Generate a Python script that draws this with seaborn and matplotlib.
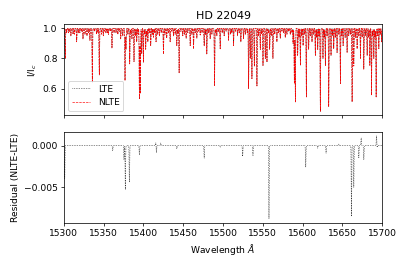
import numpy as np
import pandas as pd
import matplotlib
matplotlib.use("Agg")
import matplotlib.pyplot as plt
import seaborn as sns

sns.set_theme(style="ticks", rc={
    "axes.edgecolor": "black", "axes.labelcolor": "black", "text.color": "black",
    "xtick.color": "black", "ytick.color": "black",
    "font.size": 10, "axes.labelsize": 10, "axes.titlesize": 12,
    "xtick.labelsize": 10, "ytick.labelsize": 10, "legend.fontsize": 10,
    "axes.linewidth": 0.8, "xtick.major.width": 0.8, "ytick.major.width": 0.8,
    "xtick.major.size": 3.5, "ytick.major.size": 3.5,
})
plt.rcParams["font.family"] = ["DejaVu Sans"]

# line list: centre (A) and minimum I/Ic
line_center = [15301.7, 15305.5, 15308.8, 15311.5, 15316.0, 15320.0, 15324.0, 15329.0,
               15332.7, 15335.7, 15341.0, 15344.5, 15349.5, 15352.8, 15356.0, 15360.4,
               15365.5, 15371.4, 15374.0, 15376.8, 15378.0, 15382.7, 15385.5, 15388.1,
               15391.5, 15394.9, 15396.1, 15397.8, 15399.9, 15402.8, 15405.5, 15409.1,
               15412.5, 15415.8, 15420.0, 15425.1, 15429.2, 15433.5, 15437.7, 15441.9,
               15444.8, 15449.4, 15453.6, 15458.7, 15462.9, 15467.1, 15471.3, 15476.3,
               15479.6, 15483.8, 15489.3, 15492.2, 15496.4, 15501.4, 15506.9, 15513.2,
               15518.2, 15522.4, 15525.7, 15532.1, 15534.2, 15536.3, 15539.3, 15542.6,
               15546.8, 15550.2, 15553.1, 15555.2, 15558.6, 15562.7, 15567.7, 15571.9,
               15578.2, 15584.5, 15588.0, 15589.6, 15590.9, 15593.8, 15597.2, 15600.6,
               15604.7, 15607.6, 15611.8, 15616.0, 15619.0, 15622.3, 15625.6, 15628.6,
               15632.8, 15635.7, 15639.1, 15643.3, 15647.5, 15650.9, 15655.9, 15662.2,
               15664.3, 15668.5, 15672.7, 15676.9, 15681.1, 15684.5, 15686.6, 15689.5,
               15692.4, 15695.8, 15699.2]
line_min = [0.80, 0.97, 0.95, 0.96, 0.91, 0.97, 0.93, 0.95,
            0.92, 0.64, 0.96, 0.69, 0.95, 0.97, 0.96, 0.87,
            0.97, 0.93, 0.95, 0.655, 0.86, 0.765, 0.93, 0.78,
            0.91, 0.534, 0.567, 0.83, 0.776, 0.86, 0.91, 0.885,
            0.94, 0.91, 0.95, 0.83, 0.935, 0.91, 0.95, 0.885,
            0.705, 0.95, 0.935, 0.885, 0.864, 0.935, 0.955, 0.885,
            0.83, 0.93, 0.62, 0.95, 0.864, 0.95, 0.92, 0.885,
            0.95, 0.91, 0.93, 0.60, 0.80, 0.666, 0.75, 0.617,
            0.86, 0.754, 0.80, 0.776, 0.86, 0.80, 0.91, 0.935,
            0.94, 0.96, 0.90, 0.633, 0.512, 0.82, 0.754, 0.885,
            0.545, 0.86, 0.91, 0.82, 0.86, 0.45, 0.80, 0.754,
            0.479, 0.82, 0.864, 0.84, 0.633, 0.885, 0.84, 0.512,
            0.754, 0.864, 0.80, 0.73, 0.82, 0.754, 0.556, 0.80,
            0.545, 0.864, 0.91]

# weak lines filling the band just under the continuum
weak_center = [15303.2, 15307.0, 15313.4, 15318.1, 15322.2, 15326.5, 15331.0, 15338.4,
               15342.8, 15347.2, 15351.0, 15354.5, 15358.2, 15363.0, 15367.8, 15369.6,
               15380.4, 15384.0, 15390.0, 15393.2, 15401.3, 15404.1, 15407.3, 15411.0,
               15414.0, 15417.8, 15422.3, 15427.0, 15431.4, 15435.6, 15439.8, 15443.2,
               15447.0, 15451.5, 15455.7, 15460.8, 15465.0, 15469.2, 15473.6, 15478.0,
               15481.7, 15486.0, 15490.8, 15494.3, 15498.9, 15503.8, 15509.5, 15511.0,
               15515.6, 15520.3, 15528.0, 15530.4, 15544.6, 15548.5, 15557.0, 15560.5,
               15565.0, 15569.8, 15574.0, 15576.1, 15580.3, 15582.4, 15586.6, 15595.5,
               15598.9, 15602.6, 15609.6, 15613.9, 15617.5, 15620.6, 15627.1, 15630.7,
               15637.4, 15641.2, 15645.4, 15649.2, 15653.4, 15658.0, 15660.1, 15666.4,
               15670.6, 15674.8, 15679.0, 15683.0, 15688.0, 15691.0, 15694.1, 15697.5]
weak_min = [0.97, 0.98, 0.96, 0.97, 0.98, 0.96, 0.97, 0.98,
            0.97, 0.96, 0.98, 0.97, 0.98, 0.97, 0.96, 0.98,
            0.96, 0.97, 0.95, 0.96, 0.96, 0.95, 0.97, 0.96,
            0.97, 0.96, 0.97, 0.96, 0.97, 0.98, 0.96, 0.97,
            0.98, 0.96, 0.97, 0.96, 0.97, 0.98, 0.97, 0.96,
            0.97, 0.96, 0.97, 0.98, 0.97, 0.98, 0.96, 0.97,
            0.98, 0.97, 0.96, 0.97, 0.95, 0.96, 0.97, 0.95,
            0.96, 0.97, 0.98, 0.97, 0.96, 0.98, 0.97, 0.94,
            0.95, 0.96, 0.95, 0.96, 0.94, 0.95, 0.94, 0.95,
            0.95, 0.94, 0.96, 0.95, 0.94, 0.95, 0.96, 0.94,
            0.95, 0.94, 0.95, 0.94, 0.95, 0.94, 0.95, 0.96]

# NLTE - LTE differences at line cores
resid_center = [15301.0, 15361.3, 15375.5, 15377.2, 15382.3, 15394.9, 15415.6, 15416.2,
                15421.7, 15441.9, 15476.3, 15496.4, 15524.6, 15537.6, 15557.7, 15603.9,
                15619.0, 15629.5, 15645.4, 15661.4, 15664.3, 15670.6, 15673.6, 15676.9,
                15692.9, 15693.5]
resid_amp = [-0.0040, -0.0006, -0.0017, -0.0053, -0.0044, -0.0011, 0.0004, -0.0009,
             0.0003, -0.0004, -0.0015, -0.0002, -0.0013, -0.0012, -0.0088, -0.0026,
             -0.0003, -0.0009, 0.0002, -0.0085, -0.0050, -0.0015, 0.0009, -0.0017,
             0.0012, -0.0003]

wave = np.arange(15300.0, 15700.01, 0.05)
sigma = 0.3


def spectrum(centers, mins):
    flux = np.ones_like(wave)
    for c, m in zip(centers, mins):
        flux *= 1 - (1 - m) * np.exp(-0.5 * ((wave - c) / sigma) ** 2)
    return flux


lte = spectrum(line_center, line_min) * spectrum(weak_center, weak_min)
resid = np.zeros_like(wave)
for c, a in zip(resid_center, resid_amp):
    resid += a * np.exp(-0.5 * ((wave - c) / sigma) ** 2)

df = pd.DataFrame({"wave": wave, "LTE": lte, "NLTE": lte + resid})
df["resid"] = df["NLTE"] - df["LTE"]

dpi = 66
fig, (ax1, ax2) = plt.subplots(2, 1, sharex=True, figsize=(407 / dpi, 271 / dpi), dpi=dpi)
fig.subplots_adjust(left=0.157, right=0.939, top=0.911, bottom=0.177, hspace=0.18)

sns.lineplot(data=df, x="wave", y="LTE", ax=ax1, color="black", linestyle=":",
             linewidth=0.7, label="LTE", estimator=None, sort=False)
sns.lineplot(data=df, x="wave", y="NLTE", ax=ax1, color="red", linestyle="--",
             linewidth=0.7, label="NLTE", estimator=None, sort=False)
ax1.legend(loc="lower left")
ax1.set_title("HD 22049")
ax1.set_ylabel("I/I$_c$")
ax1.set_xlabel("")

sns.lineplot(data=df, x="wave", y="resid", ax=ax2, color="black", linestyle=":",
             linewidth=0.7, estimator=None, sort=False)
ax2.set_xlim(15300, 15700)
ax2.set_ylabel("Residual (NLTE-LTE)")
ax2.set_xlabel(r"Wavelength $\AA$")

fig.savefig("out.png", dpi=dpi)
